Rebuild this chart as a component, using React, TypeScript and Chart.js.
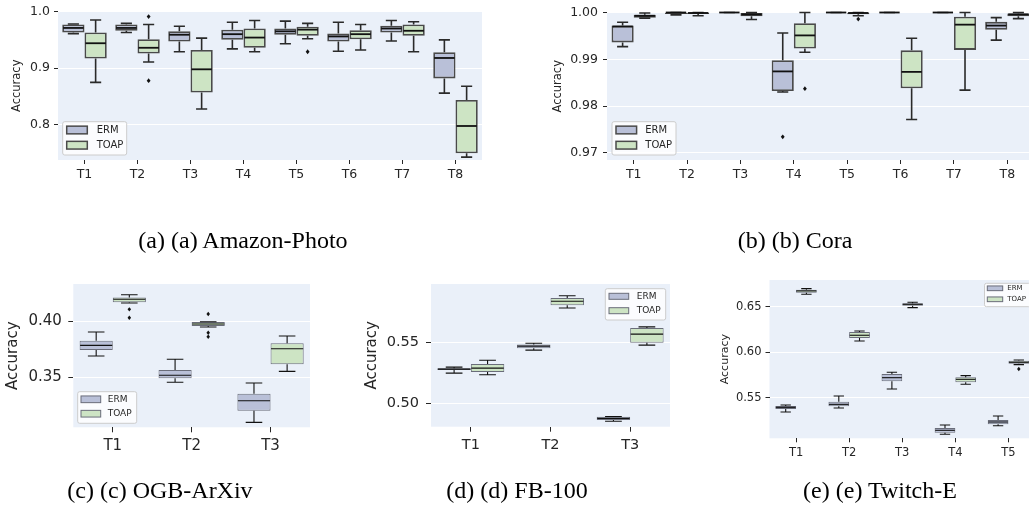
import React, { useEffect, useRef } from 'react';
import { Chart, registerables } from 'chart.js';

Chart.register(...registerables);

// ---------- DATA: each box = [lower whisker, Q1, median, Q3, upper whisker] ----------
// (a) Amazon-Photo
const amazonTasks = ['T1', 'T2', 'T3', 'T4', 'T5', 'T6', 'T7', 'T8'];
const amazonERM = [
  [0.961, 0.963, 0.971, 0.977, 0.978],
  [0.963, 0.966, 0.971, 0.977, 0.979],
  [0.929, 0.947, 0.959, 0.965, 0.974],
  [0.934, 0.950, 0.960, 0.968, 0.981],
  [0.943, 0.959, 0.965, 0.970, 0.983],
  [0.930, 0.947, 0.956, 0.961, 0.981],
  [0.948, 0.963, 0.970, 0.975, 0.984],
  [0.856, 0.882, 0.918, 0.928, 0.950],
];
const amazonERMOut = [[], [], [], [], [], [], [], []];
const amazonTOAP = [
  [0.875, 0.917, 0.944, 0.963, 0.985],
  [0.911, 0.926, 0.936, 0.951, 0.977],
  [0.828, 0.857, 0.898, 0.932, 0.953],
  [0.929, 0.936, 0.954, 0.970, 0.984],
  [0.952, 0.957, 0.968, 0.973, 0.979],
  [0.932, 0.951, 0.960, 0.967, 0.977],
  [0.929, 0.957, 0.966, 0.977, 0.982],
  [0.743, 0.750, 0.798, 0.844, 0.868],
];
const amazonTOAPOut = [[], [0.991, 0.878], [], [], [0.929], [], [], []];
const amazonTicks = [0.8, 0.9, 1.0];

// (b) Cora
const coraTasks = ['T1', 'T2', 'T3', 'T4', 'T5', 'T6', 'T7', 'T8'];
const coraERM = [
  [0.9927, 0.9936, 0.9970, 0.9972, 0.9979],
  [0.9995, 0.9997, 1.0, 1.0, 1.0],
  [1.0, 1.0, 1.0, 1.0, 1.0],
  [0.9830, 0.9832, 0.9874, 0.9898, 0.9956],
  [1.0, 1.0, 1.0, 1.0, 1.0],
  [1.0, 1.0, 1.0, 1.0, 1.0],
  [1.0, 1.0, 1.0, 1.0, 1.0],
  [0.9941, 0.9963, 0.9972, 0.9980, 0.9989],
];
const coraERMOut = [[], [], [], [0.9734], [], [], [], []];
const coraTOAP = [
  [0.9988, 0.9989, 0.9993, 0.9995, 0.9999],
  [0.9993, 0.9997, 0.9999, 1.0, 1.0],
  [0.9985, 0.9992, 0.9996, 0.9999, 1.0],
  [0.9915, 0.9923, 0.9951, 0.9977, 1.0],
  [0.9993, 0.9996, 0.9999, 1.0, 1.0],
  [0.9771, 0.9838, 0.9873, 0.9919, 0.9945],
  [0.9834, 0.9920, 0.9974, 0.9991, 1.0],
  [0.9987, 0.9992, 0.9996, 0.9998, 1.0],
];
const coraTOAPOut = [[], [], [], [0.9837], [0.9986], [], [], []];
const coraTicks = [0.97, 0.98, 0.99, 1.0];

// (c) OGB-ArXiv
const arxivTasks = ['T1', 'T2', 'T3'];
const arxivERM = [
  [0.3689, 0.3742, 0.3784, 0.3825, 0.3902],
  [0.3456, 0.3491, 0.3518, 0.3565, 0.3660],
  [0.3100, 0.3203, 0.3292, 0.3354, 0.3449],
];
const arxivERMOut = [[], [], []];
const arxivTOAP = [
  [0.4160, 0.4166, 0.4193, 0.4210, 0.4234],
  [0.3947, 0.3956, 0.3973, 0.3991, 0.3994],
  [0.3553, 0.3615, 0.3754, 0.3802, 0.3867],
];
const arxivTOAPOut = [[0.4104, 0.4029], [0.4062, 0.3896, 0.3861], []];
const arxivTicks = [0.35, 0.40];

// (d) FB-100
const fbTasks = ['T1', 'T2', 'T3'];
const fbERM = [
  [0.5250, 0.5275, 0.5283, 0.5291, 0.5299],
  [0.5438, 0.5454, 0.5471, 0.5484, 0.5495],
  [0.4856, 0.4867, 0.4880, 0.4894, 0.4896],
];
const fbERMOut = [[], [], []];
const fbTOAP = [
  [0.5237, 0.5259, 0.5291, 0.5324, 0.5356],
  [0.5783, 0.5805, 0.5838, 0.5865, 0.5883],
  [0.5479, 0.5498, 0.5569, 0.5620, 0.5628],
];
const fbTOAPOut = [[], [], []];
const fbTicks = [0.50, 0.55];

// (e) Twitch-E
const twitchTasks = ['T1', 'T2', 'T3', 'T4', 'T5'];
const twitchERM = [
  [0.5343, 0.5376, 0.5394, 0.5409, 0.5420],
  [0.5387, 0.5405, 0.5427, 0.5456, 0.5519],
  [0.5596, 0.5680, 0.5720, 0.5760, 0.5779],
  [0.5098, 0.5115, 0.5142, 0.5167, 0.5200],
  [0.5192, 0.5208, 0.5233, 0.5255, 0.5299],
];
const twitchERMOut = [[], [], [], [], []];
const twitchTOAP = [
  [0.6636, 0.6654, 0.6673, 0.6687, 0.6698],
  [0.6123, 0.6156, 0.6186, 0.6222, 0.6233],
  [0.6489, 0.6511, 0.6526, 0.6537, 0.6548],
  [0.5647, 0.5669, 0.5702, 0.5724, 0.5742],
  [0.5863, 0.5874, 0.5889, 0.5907, 0.5914],
];
const twitchTOAPOut = [[], [], [], [], [0.5815]];
const twitchTicks = [0.55, 0.60, 0.65];

const seriesNames = ['ERM', 'TOAP'];

// ---------- STYLE / LAYOUT ----------
const CW = 1040;
const CH = 510;
const XH = 40;
const FONT = '"DejaVu Sans", sans-serif';
const BG = '#eaf0f9';
const ERM_FILL = '#b9c0d8';
const TOAP_FILL = '#cde4c4';
const TEXT = '#262626';

type Panel = any;

const thickStyle = {
  boxBorder: '#4a4a4a', boxBW: 1.8, whisker: '#2a2a2a', whiskerW: 1.6,
  median: '#111111', medianW: 1.8, flier: 2.4, legendBorder: '#4a4a4a', legendBW: 1.5,
};
const thinStyle = {
  boxBorder: '#6a6d7a', boxBW: 1, whisker: '#111111', whiskerW: 1.1,
  median: '#111111', medianW: 1.1, flier: 2.2, legendBorder: '#6a6d7a', legendBW: 1,
};

const panels: Panel[] = [
  {
    labels: amazonTasks, erm: amazonERM, ermOut: amazonERMOut, toap: amazonTOAP, toapOut: amazonTOAPOut,
    ticks: amazonTicks, dec: 1, min: 0.738, max: 1.0,
    area: { l: 58, r: 482, t: 11, b: 160 }, tickSize: 12.5, titleSize: 11.5, titleCx: 17.5,
    yPad: 4, xPad: 3.5, tickLen: 4, catPct: 0.84, style: thickStyle,
    legend: { x: 62.7, y: 121.7, w: 64, h: 33.3, patchX: 66.7, patchW: 20.6, patchH: 7.7, textX: 96.7, rows: [130, 145.2], font: 10 },
  },
  {
    labels: coraTasks, erm: coraERM, ermOut: coraERMOut, toap: coraTOAP, toapOut: coraTOAPOut,
    ticks: coraTicks, dec: 2, min: 0.96845, max: 1.0,
    area: { l: 607, r: 1034, t: 11, b: 160 }, tickSize: 12.5, titleSize: 11.5, titleCx: 557.7,
    yPad: 5, xPad: 3.5, tickLen: 4, catPct: 0.83, style: thickStyle,
    legend: { x: 612, y: 121.7, w: 64, h: 33.3, patchX: 616, patchW: 20.6, patchH: 7.7, textX: 645.3, rows: [130, 145.2], font: 10 },
  },
  {
    labels: arxivTasks, erm: arxivERM, ermOut: arxivERMOut, toap: arxivTOAP, toapOut: arxivTOAPOut,
    ticks: arxivTicks, dec: 2, min: 0.3056, max: 0.4329,
    area: { l: 73.3, r: 310, t: 284, b: 427.3 }, tickSize: 15, titleSize: 15, titleCx: 13.3,
    yPad: 6.5, xPad: 4.4, tickLen: 5, catPct: 0.84, style: thinStyle,
    legend: { x: 77.7, y: 391.7, w: 59, h: 31.6, patchX: 81, patchW: 19.7, patchH: 6.7, textX: 107.7, rows: [399.3, 413.7], font: 9 },
  },
  {
    labels: fbTasks, erm: fbERM, ermOut: fbERMOut, toap: fbTOAP, toapOut: fbTOAPOut,
    ticks: fbTicks, dec: 2, min: 0.4812, max: 0.5979,
    area: { l: 431, r: 670, t: 284, b: 426.7 }, tickSize: 14.5, titleSize: 15, titleCx: 372,
    yPad: 7, xPad: 4.6, tickLen: 5, catPct: 0.84, style: thinStyle,
    legend: { x: 605.3, y: 288.7, w: 60.4, h: 31.3, patchX: 609, patchW: 19.7, patchH: 6, textX: 636.7, rows: [296.3, 310.7], font: 9 },
  },
  {
    labels: twitchTasks, erm: twitchERM, ermOut: twitchERMOut, toap: twitchTOAP, toapOut: twitchTOAPOut,
    ticks: twitchTicks, dec: 2, min: 0.5054, max: 0.6793,
    area: { l: 769.5, r: 1035, t: 280, b: 438.3 }, tickSize: 11.5, titleSize: 11, titleCx: 725,
    yPad: 4, xPad: 4.3, tickLen: 4, catPct: 0.78, style: thinStyle,
    legend: { x: 984.5, y: 283.3, w: 46, h: 23.4, patchX: 987.3, patchW: 15.4, patchH: 4.7, textX: 1007.3, rows: [288.3, 299.3], font: 7 },
  },
];

const captions = [
  { text: '(a) (a) Amazon-Photo', cx: 243, cy: 240 },
  { text: '(b) (b) Cora', cx: 795, cy: 240 },
  { text: '(c) (c) OGB-ArXiv', cx: 160, cy: 490 },
  { text: '(d) (d) FB-100', cx: 517, cy: 490 },
  { text: '(e) (e) Twitch-E', cx: 880, cy: 490 },
];

function makeChart(canvas: HTMLCanvasElement, p: Panel) {
  const st = p.style;
  const scaleLeft = p.titleCx - 0.6 * p.titleSize;
  const yW = p.area.l - scaleLeft;

  const bgPlugin = {
    id: 'bgfill',
    beforeDraw(chart: any) {
      const { ctx, chartArea: a } = chart;
      ctx.save();
      ctx.fillStyle = BG;
      ctx.fillRect(a.left, a.top, a.right - a.left, a.bottom - a.top);
      ctx.restore();
    },
  };

  const boxPlugin = {
    id: 'boxwhisk',
    afterDatasetsDraw(chart: any) {
      const { ctx } = chart;
      const ys = chart.scales.y;
      chart.data.datasets.forEach((ds: any, di: number) => {
        const meta = chart.getDatasetMeta(di);
        meta.data.forEach((el: any, i: number) => {
          const s = ds.stats[i];
          const x = el.x;
          const w = el.width;
          const pLo = ys.getPixelForValue(s[0]);
          const pQ1 = ys.getPixelForValue(s[1]);
          const pMed = ys.getPixelForValue(s[2]);
          const pQ3 = ys.getPixelForValue(s[3]);
          const pHi = ys.getPixelForValue(s[4]);
          ctx.save();
          ctx.strokeStyle = st.whisker;
          ctx.lineWidth = st.whiskerW;
          ctx.lineCap = 'butt';
          ctx.beginPath();
          ctx.moveTo(x, pQ3); ctx.lineTo(x, pHi);
          ctx.moveTo(x, pQ1); ctx.lineTo(x, pLo);
          ctx.moveTo(x - w / 4, pHi); ctx.lineTo(x + w / 4, pHi);
          ctx.moveTo(x - w / 4, pLo); ctx.lineTo(x + w / 4, pLo);
          ctx.stroke();
          ctx.strokeStyle = st.median;
          ctx.lineWidth = st.medianW;
          ctx.beginPath();
          ctx.moveTo(x - w / 2 + st.boxBW / 2, pMed);
          ctx.lineTo(x + w / 2 - st.boxBW / 2, pMed);
          ctx.stroke();
          ctx.fillStyle = '#111111';
          (ds.outliers[i] || []).forEach((v: number) => {
            const py = ys.getPixelForValue(v);
            const r = st.flier;
            ctx.beginPath();
            ctx.moveTo(x, py - r);
            ctx.lineTo(x + r * 0.8, py);
            ctx.lineTo(x, py + r);
            ctx.lineTo(x - r * 0.8, py);
            ctx.closePath();
            ctx.fill();
          });
          ctx.restore();
        });
      });
    },
  };

  const legendPlugin = {
    id: 'boxlegend',
    afterDraw(chart: any) {
      const { ctx } = chart;
      const lg = p.legend;
      ctx.save();
      ctx.fillStyle = 'rgba(255,255,255,0.8)';
      ctx.strokeStyle = '#cccccc';
      ctx.lineWidth = 1;
      ctx.beginPath();
      if (ctx.roundRect) ctx.roundRect(lg.x, lg.y, lg.w, lg.h, 2);
      else ctx.rect(lg.x, lg.y, lg.w, lg.h);
      ctx.fill();
      ctx.stroke();
      chart.data.datasets.forEach((ds: any, di: number) => {
        const cy = lg.rows[di];
        ctx.fillStyle = ds.backgroundColor;
        ctx.fillRect(lg.patchX, cy - lg.patchH / 2, lg.patchW, lg.patchH);
        ctx.strokeStyle = st.legendBorder;
        ctx.lineWidth = st.legendBW;
        ctx.strokeRect(lg.patchX, cy - lg.patchH / 2, lg.patchW, lg.patchH);
        ctx.fillStyle = TEXT;
        ctx.font = `${lg.font}px ${FONT}`;
        ctx.textBaseline = 'middle';
        ctx.textAlign = 'left';
        ctx.fillText(ds.label, lg.textX, cy);
      });
      ctx.restore();
    },
  };

  const mkDs = (name: string, stats: number[][], outs: number[][], fill: string) => ({
    label: name,
    data: stats.map((s) => [s[1], s[3]]),
    stats,
    outliers: outs,
    backgroundColor: fill,
    borderColor: st.boxBorder,
    borderWidth: st.boxBW,
    borderSkipped: false,
    categoryPercentage: p.catPct,
    barPercentage: 1.0,
  });

  return new Chart(canvas, {
    type: 'bar',
    data: {
      labels: p.labels,
      datasets: [
        mkDs(seriesNames[0], p.erm, p.ermOut, ERM_FILL),
        mkDs(seriesNames[1], p.toap, p.toapOut, TOAP_FILL),
      ] as any,
    },
    options: {
      responsive: false,
      maintainAspectRatio: false,
      animation: false,
      events: [],
      layout: {
        padding: {
          left: scaleLeft,
          top: p.area.t,
          right: CW - p.area.r,
          bottom: CH - p.area.b - XH,
        },
      },
      plugins: { legend: { display: false }, tooltip: { enabled: false }, title: { display: false } },
      scales: {
        x: {
          type: 'category',
          offset: true,
          grid: {
            offset: false, drawOnChartArea: false, drawTicks: true,
            tickLength: p.tickLen, tickColor: TEXT, tickWidth: 1,
          },
          border: { display: false },
          ticks: {
            font: { family: FONT, size: p.tickSize }, color: TEXT,
            padding: p.xPad, maxRotation: 0, autoSkip: false,
          },
          afterFit: (s: any) => { s.height = XH; },
        },
        y: {
          type: 'linear',
          min: p.min,
          max: p.max,
          afterBuildTicks: (s: any) => { s.ticks = p.ticks.map((v: number) => ({ value: v })); },
          afterFit: (s: any) => { s.width = yW; },
          grid: {
            color: '#ffffff', lineWidth: 1, drawTicks: true,
            tickLength: p.tickLen, tickColor: TEXT, tickWidth: 1,
          },
          border: { display: false },
          ticks: {
            callback: (v: any) => Number(v).toFixed(p.dec),
            font: { family: FONT, size: p.tickSize }, color: TEXT,
            padding: p.yPad, autoSkip: false,
          },
          title: {
            display: true, text: 'Accuracy', color: TEXT,
            font: { family: FONT, size: p.titleSize }, padding: 0,
          },
        },
      },
    } as any,
    plugins: [bgPlugin, boxPlugin, legendPlugin],
  });
}

function PanelCanvas({ p }: { p: Panel }) {
  const ref = useRef<HTMLCanvasElement | null>(null);
  useEffect(() => {
    if (!ref.current) return;
    const chart = makeChart(ref.current, p);
    return () => chart.destroy();
  }, [p]);
  return (
    <canvas
      ref={ref}
      width={CW}
      height={CH}
      style={{ position: 'absolute', left: 0, top: 0, width: CW, height: CH }}
    />
  );
}

export default function App() {
  return (
    <div
      style={{
        position: 'fixed', left: 0, top: 0, width: 1029, height: 510,
        overflow: 'hidden', background: '#ffffff',
      }}
    >
      {panels.map((p, i) => (
        <PanelCanvas key={i} p={p} />
      ))}
      {captions.map((c, i) => (
        <div
          key={'c' + i}
          style={{
            position: 'absolute', left: c.cx - 200, width: 400, top: c.cy - 13,
            height: 26, lineHeight: '26px', textAlign: 'center',
            fontFamily: '"Liberation Serif", "Times New Roman", serif',
            fontSize: 24, color: '#000000', whiteSpace: 'nowrap',
          }}
        >
          {c.text}
        </div>
      ))}
    </div>
  );
}
